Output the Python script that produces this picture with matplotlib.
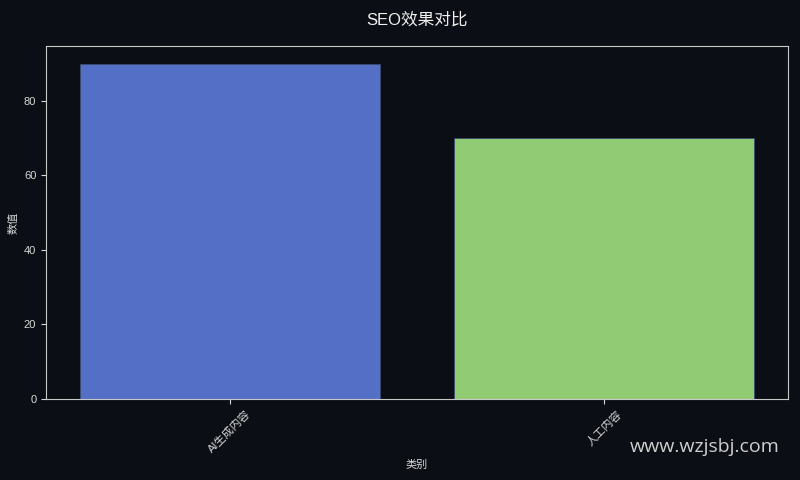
import matplotlib.pyplot as plt

plt.rcParams['font.family'] = ['Liberation Sans', 'Noto Sans CJK SC', 'DejaVu Sans']

categories = ["AI生成内容", "人工内容"]
values = [90, 70]
colors = ["#5470c6", "#91cc75"]

bg = "#0b0e14"
fg = "#d8d8d8"

fig, ax = plt.subplots(figsize=(8, 4.8), dpi=100)
fig.patch.set_facecolor(bg)
ax.set_facecolor(bg)
fig.subplots_adjust(left=0.0575, right=0.985, top=0.904, bottom=0.169)

ax.bar(range(len(categories)), values, width=0.8, color=colors,
       edgecolor="#3a4a70", linewidth=0.6)

ax.set_xticks(range(len(categories)))
ax.set_xticklabels(categories, rotation=45, fontsize=8, color=fg)
ax.set_xlim(-0.49, 1.49)
ax.set_ylim(0, 94.7)
ax.tick_params(axis="y", labelsize=8, colors=fg)
ax.tick_params(axis="x", colors=fg)

for s in ax.spines.values():
    s.set_color("#c8c8c8")

ax.set_xlabel("类别", fontsize=8, color=fg)
ax.set_ylabel("数值", fontsize=8, color=fg)
fig.suptitle("SEO效果对比", fontsize=12, color="#f0f0f0", x=0.521, y=0.975)

fig.text(0.975, 0.069, "www.wzjsbj.com", ha="right", va="center",
         fontsize=14, color="#cfcfcf", family="Open Sans")

fig.savefig("out.png", facecolor=bg)
